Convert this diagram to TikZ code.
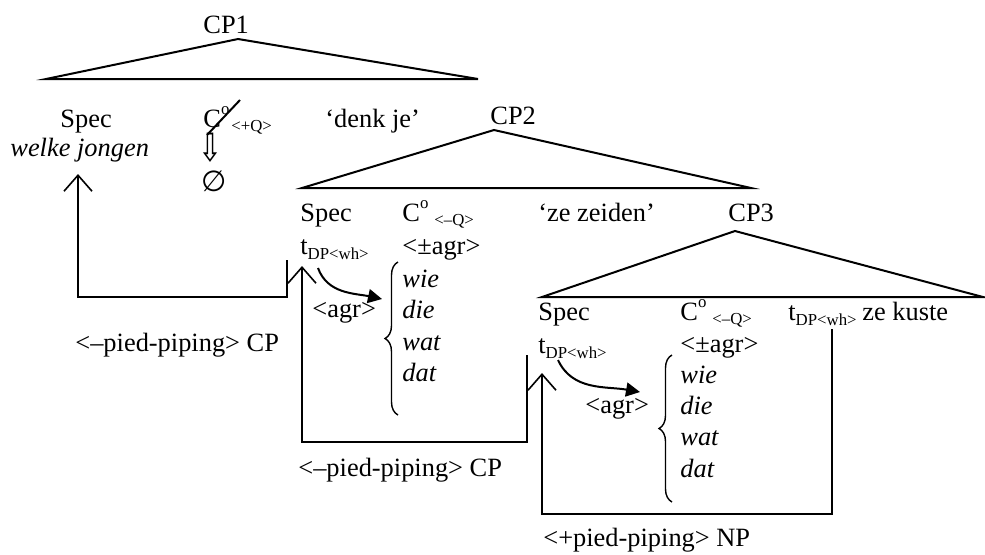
\documentclass[tikz,border=0pt]{standalone}
\usepackage{fontspec}
\setmainfont{Liberation Serif}
\newfontfamily\dvsfont{DejaVu Sans}
\usetikzlibrary{arrows.meta,decorations.pathreplacing}
\newcommand{\smallsub}[1]{{\fontsize{8.4}{9}\selectfont #1}}
\newcommand{\trc}{t\raisebox{-0.45ex}{\smallsub{DP<wh>}}}
\newcommand{\Cnull}[2]{C\raisebox{1.05ex}{\smallsub{o}}\hspace{#1}\raisebox{-0.35ex}{\smallsub{#2}}}
\begin{document}
\begin{tikzpicture}[x=0.5pt,y=-0.5pt,
  txt/.style={inner sep=0pt,anchor=base west,font=\fontsize{13.2}{15}\selectfont},
  tri/.style={line width=1pt,line join=miter},
  conn/.style={line width=0.8pt},
  barb/.style={conn,-{Straight Barb[length=8pt,width=14pt]}},
  agrarrow/.style={line width=1pt,-{Triangle[length=7pt,width=7pt]}},
  bracestyle/.style={line width=0.7pt,decorate,decoration={brace,amplitude=6.5pt}}]
\useasboundingbox (0,0) rectangle (985,554);

% ---------- CP1 ----------
\node[txt] (cp1) at (203,33) {CP1};
\coordinate (t1l) at (46,79);
\coordinate (t1a) at (238,39);
\coordinate (t1r) at (478,79);
\draw[tri] (t1l) -- (t1a) -- (t1r) -- cycle;
\node[txt] (spec1) at (60,127) {Spec};
\node[txt] (wj) at (10,156) {\itshape welke jongen};
\node[txt] (c1) at (203,127) {\Cnull{1pt}{<+Q>}};
\node[txt] (dj) at (325,127) {‘denk je’};
\coordinate (sl1) at (207,135);
\coordinate (sl2) at (240,100);
\draw[line width=1pt] (sl1) -- (sl2);
\node[inner sep=0pt,font=\dvsfont\fontsize{13}{15}\selectfont] (darr) at (210,148) {\scalebox{1.1}[1.5]{⇩}};
\node[inner sep=0pt,font=\dvsfont\fontsize{14.5}{16}\selectfont] (empty) at (214,181) {∅};

% ---------- CP2 ----------
\node[txt] (cp2) at (490,124) {CP2};
\coordinate (t2l) at (302,188);
\coordinate (t2a) at (494,130);
\coordinate (t2r) at (751,188);
\draw[tri] (t2l) -- (t2a) -- (t2r) -- cycle;
\node[txt] (spec2) at (300,221) {Spec};
\node[txt] (c2) at (402,221) {\Cnull{3pt}{<–Q>}};
\node[txt] (zz) at (538,221) {‘ze zeiden’};
\node[txt] (tr2) at (300,254) {\trc};
\node[txt] (agr2) at (402,254) {<±agr>};
\node[txt] (wie2) at (402,287) {\itshape wie};
\node[txt] (die2) at (402,318) {\itshape die};
\node[txt] (wat2) at (402,350) {\itshape wat};
\node[txt] (dat2) at (402,381) {\itshape dat};
\node[txt] (ag2) at (312,317) {<agr>};
\coordinate (b2b) at (398,415);
\coordinate (b2t) at (398,262);
\draw[bracestyle] (b2b) -- (b2t);
\coordinate (a2s) at (318,268);
\coordinate (a2e) at (382,299);
\draw[agrarrow] (a2s) to[out=-70,in=168] (a2e);
\node[txt] (pp1) at (75,351) {<–pied-piping> CP};

% ---------- CP3 ----------
\node[txt] (cp3) at (728,221) {CP3};
\coordinate (t3l) at (542,297);
\coordinate (t3a) at (735,231);
\coordinate (t3r) at (983,297);
\draw[tri] (t3l) -- (t3a) -- (t3r) -- cycle;
\node[txt] (spec3) at (538,320) {Spec};
\node[txt] (c3) at (680,320) {\Cnull{3pt}{<–Q>}};
\node[txt] (trr) at (788,320) {\trc};
\node[txt] (zk) at (862,320) {ze kuste};
\node[txt] (tr3) at (538,353) {\trc};
\node[txt] (agr3) at (680,352) {<±agr>};
\node[txt] (wie3) at (680,383) {\itshape wie};
\node[txt] (die3) at (680,414) {\itshape die};
\node[txt] (wat3) at (680,445) {\itshape wat};
\node[txt] (dat3) at (680,477) {\itshape dat};
\node[txt] (ag3) at (585,413) {<agr>};
\coordinate (b3b) at (672,502);
\coordinate (b3t) at (672,355);
\draw[bracestyle] (b3b) -- (b3t);
\coordinate (a3s) at (558,360);
\coordinate (a3e) at (640,392);
\draw[agrarrow] (a3s) to[out=-65,in=170] (a3e);
\node[txt] (pp2) at (298,476) {<–pied-piping> CP};
\node[txt] (pp3) at (543,546) {<+pied-piping> NP};

% ---------- movement paths ----------
\coordinate (m1s) at (287,260);
\coordinate (m1a) at (287,297);
\coordinate (m1b) at (78,297);
\coordinate (m1e) at (78,174);
\draw[barb] (m1s) -- (m1a) -- (m1b) -- (m1e);

\coordinate (m2s) at (527,355);
\coordinate (m2a) at (527,442);
\coordinate (m2b) at (302,442);
\coordinate (m2e) at (302,266);
\draw[barb] (m2s) -- (m2a) -- (m2b) -- (m2e);

\coordinate (m3s) at (832,329);
\coordinate (m3a) at (832,514);
\coordinate (m3b) at (542,514);
\coordinate (m3e) at (542,373);
\draw[barb] (m3s) -- (m3a) -- (m3b) -- (m3e);
\end{tikzpicture}
\end{document}
